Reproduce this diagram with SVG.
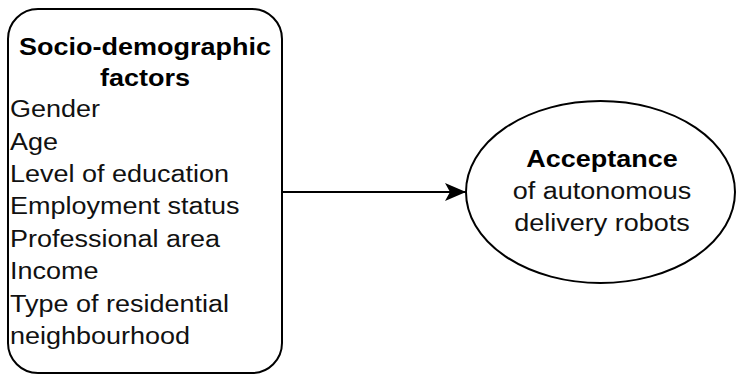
<svg xmlns="http://www.w3.org/2000/svg" width="736" height="376" viewBox="0 0 736 376">
  <defs>
    <style>
      .shape { fill: #ffffff; stroke: #000000; stroke-width: 2; }
      .edge { fill: none; stroke: #000000; stroke-width: 2; }
      .t { font-family: "Liberation Sans", Arial, sans-serif; font-size: 23.5px; fill: #111111; }
      .b { font-weight: bold; fill: #000000; }
    </style>
    <marker id="arrow" markerUnits="userSpaceOnUse" markerWidth="24" markerHeight="22" refX="21" refY="9" orient="auto">
      <path d="M0,0 L21,9 L0,18 L5,9 Z" fill="#000000"/>
    </marker>
  </defs>
  <rect width="736" height="376" fill="#ffffff"/>

  <g id="connectors">
    <line class="edge" x1="283" y1="192" x2="466" y2="192" marker-end="url(#arrow)"/>
  </g>

  <g id="node-socio">
    <rect class="shape" x="8" y="9" width="274" height="364" rx="30" ry="30"/>
    <g transform="translate(145 0) scale(1.149 1)">
      <text class="t b" x="0" y="55" text-anchor="middle">Socio-demographic</text>
      <text class="t b" x="0" y="86" text-anchor="middle">factors</text>
    </g>
    <g transform="translate(10 0) scale(1.149 1)">
      <text class="t" x="0" y="117.5">Gender</text>
      <text class="t" x="0" y="150">Age</text>
      <text class="t" x="0" y="182.5">Level of education</text>
      <text class="t" x="0" y="214.5">Employment status</text>
      <text class="t" x="0" y="247">Professional area</text>
      <text class="t" x="0" y="279.5">Income</text>
      <text class="t" x="0" y="312">Type of residential</text>
      <text class="t" x="0" y="344">neighbourhood</text>
    </g>
  </g>

  <g id="node-acceptance">
    <ellipse class="shape" cx="600.5" cy="192" rx="134.5" ry="91"/>
    <g transform="translate(602 0) scale(1.149 1)">
      <text class="t b" x="0" y="167" text-anchor="middle">Acceptance</text>
      <text class="t" x="0" y="199" text-anchor="middle">of autonomous</text>
      <text class="t" x="0" y="231" text-anchor="middle">delivery robots</text>
    </g>
  </g>
</svg>
